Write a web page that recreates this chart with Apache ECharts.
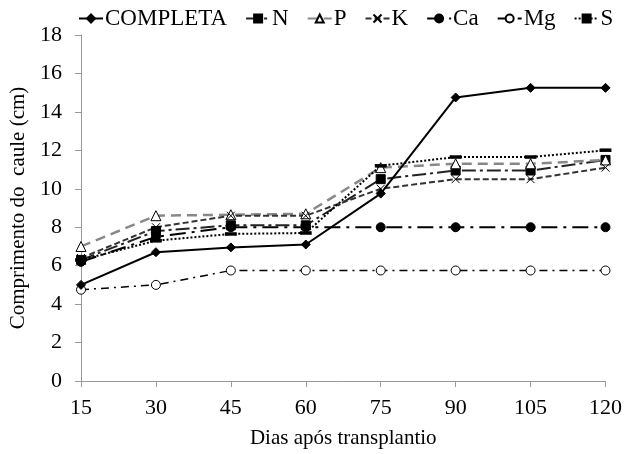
<!DOCTYPE html>
<html>
<head>
<meta charset="utf-8">
<script src="https://cdn.jsdelivr.net/npm/echarts@6/dist/echarts.min.js"></script>
<style>
  html, body { margin: 0; padding: 0; background: #fff; }
  #chart { width: 625px; height: 454px; }
</style>
</head>
<body>
<div id="chart"></div>
<script>
// dias após transplantio
var dias = ['15', '30', '45', '60', '75', '90', '105', '120'];

// comprimento do caule (cm) por tratamento
var completa = [5.0, 6.7, 6.95, 7.1, 9.75, 14.75, 15.25, 15.25];
var semN = [6.3, 7.8, 8.1, 8.1, 10.5, 10.95, 10.95, 11.5];
var semP = [7.0, 8.6, 8.65, 8.7, 11.1, 11.3, 11.3, 11.5];
var semK = [6.4, 8.0, 8.6, 8.6, 10.0, 10.5, 10.5, 11.1];
var semCa = [6.2, 7.5, 8.0, 8.0, 8.0, 8.0, 8.0, 8.0];
var semMg = [4.75, 5.0, 5.75, 5.75, 5.75, 5.75, 5.75, 5.75];
var semS = [6.3, 7.3, 7.65, 7.7, 11.2, 11.65, 11.65, 12.0];

var yTicks = { min: 0, max: 18, interval: 2 };

var fonte = "'Liberation Serif', 'Times New Roman', serif";
var xis = 'path://M0,0L10,10M10,0L0,10';

function serie(nome, dados, simbolo, tam, cor, borda, linha) {
    return {
        name: nome,
        type: 'line',
        data: dados,
        symbol: simbolo,
        symbolSize: tam,
        showAllSymbol: true,
        z: nome == 'COMPLETA' ? 5 : 3,
        itemStyle: { color: cor, borderColor: borda, borderWidth: 1 },
        lineStyle: linha,
        emphasis: { disabled: true }
    };
}

var option = {
    animation: false,
    textStyle: { fontFamily: fonte },
    legend: {
        top: 7,
        left: 78,
        width: 600,
        padding: 0,
        itemWidth: 24,
        itemHeight: 10,
        itemGap: 18,
        textStyle: { fontFamily: fonte, fontSize: 23, color: '#000', padding: [0, 0, 0, -3] }
    },
    grid: { left: 80, right: 19, top: 35, bottom: 67 },
    xAxis: {
        type: 'category',
        data: dias,
        boundaryGap: false,
        name: 'Dias após transplantio',
        nameLocation: 'middle',
        nameGap: 47,
        nameTextStyle: { fontFamily: fonte, fontSize: 21, color: '#000' },
        axisLine: { lineStyle: { color: '#999', width: 1 } },
        axisTick: { length: 6, lineStyle: { color: '#999' } },
        axisLabel: { fontFamily: fonte, fontSize: 22, color: '#000', margin: 16 }
    },
    yAxis: {
        type: 'value',
        min: yTicks.min,
        max: yTicks.max,
        interval: yTicks.interval,
        name: 'Comprimento do  caule (cm)',
        nameLocation: 'middle',
        nameGap: 52,
        nameTextStyle: { fontFamily: fonte, fontSize: 21, color: '#000' },
        axisLine: { show: true, lineStyle: { color: '#999', width: 1 } },
        axisTick: { show: true, length: 6, lineStyle: { color: '#999' } },
        axisLabel: { fontFamily: fonte, fontSize: 22, color: '#000', margin: 19 },
        splitLine: { show: false }
    },
    series: [
        serie('COMPLETA', completa, 'diamond', 9, '#000', '#000', { color: '#000', width: 2 }),
        serie('N', semN, 'rect', 9, '#000', '#000', { color: '#222', width: 2, type: [14, 4, 3, 4] }),
        serie('P', semP, 'triangle', 10, '#fff', '#000', { color: '#888', width: 2.5, type: [10, 6] }),
        serie('K', semK, xis, 8, 'none', '#000', { color: '#333', width: 2, type: [6, 3] }),
        serie('Ca', semCa, 'circle', 9, '#000', '#000', { color: '#000', width: 2, type: [16, 6, 3, 6] }),
        serie('Mg', semMg, 'circle', 9, '#fff', '#000', { color: '#000', width: 1.5, type: [8, 5, 2, 5] }),
        serie('S', semS, 'rect', [10, 3], '#000', '#000', { color: '#000', width: 2, type: [2, 2] })
    ]
};

var myChart = echarts.init(document.getElementById('chart'));
myChart.setOption(option);
</script>
</body>
</html>
